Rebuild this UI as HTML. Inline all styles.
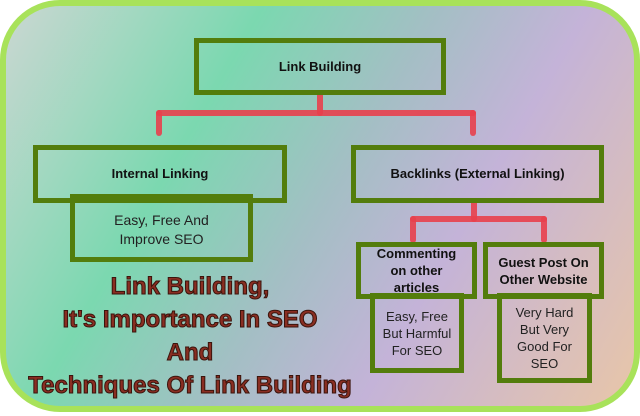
<!DOCTYPE html>
<html><head><meta charset="utf-8"><style>
html,body{margin:0;padding:0;width:640px;height:416px;background:#fff;overflow:hidden;font-family:"Liberation Sans",sans-serif}
.outer{position:absolute;left:0;top:0;width:628px;height:400px;border:6px solid #a8e25a;border-radius:60px;
background:linear-gradient(120deg,#cbd7d2 0%,#7bd8b0 30%,#a3bfc4 50%,#c4b3d8 68%,#e8c6a8 100%);}
.b{position:absolute;box-sizing:border-box;border:5px solid #537d0c;display:flex;align-items:center;justify-content:center;text-align:center;color:#222;font-size:13px;line-height:16px}
.bold{font-weight:bold;color:#111}
.r{position:absolute;background:#e8404c;opacity:.9;border-radius:3px}
.t{position:absolute;left:0;width:380px;text-align:center;font-weight:bold;font-size:24px;color:#8a2e22;-webkit-text-stroke:1px #3a140c;line-height:33px;top:270px}
</style></head><body>
<div class="outer"></div>
<div class="r" style="left:317px;top:92px;width:6px;height:24px"></div>
<div class="r" style="left:156px;top:110px;width:320px;height:6px"></div>
<div class="r" style="left:156px;top:110px;width:6px;height:26px"></div>
<div class="r" style="left:470px;top:110px;width:6px;height:26px"></div>
<div class="r" style="left:471px;top:200px;width:6px;height:22px"></div>
<div class="r" style="left:410px;top:216px;width:137px;height:6px"></div>
<div class="r" style="left:410px;top:216px;width:6px;height:27px"></div>
<div class="r" style="left:541px;top:216px;width:6px;height:27px"></div>
<div class="b bold" style="left:194px;top:38px;width:252px;height:57px">Link Building</div>
<div class="b" style="left:70px;top:194px;width:183px;height:68px;padding-top:4px;font-size:14px;line-height:19px">Easy, Free And<br>Improve SEO</div>
<div class="b bold" style="left:33px;top:145px;width:254px;height:58px">Internal Linking</div>
<div class="b bold" style="left:351px;top:145px;width:253px;height:58px">Backlinks (External Linking)</div>
<div class="b" style="left:370px;top:293px;width:94px;height:80px;font-size:13px;line-height:17px">Easy, Free<br>But Harmful<br>For SEO</div>
<div class="b" style="left:497px;top:293px;width:95px;height:90px;font-size:13px;line-height:17px">Very Hard<br>But Very<br>Good For<br>SEO</div>
<div class="b bold" style="left:356px;top:242px;width:121px;height:57px;font-size:13px;line-height:17px">Commenting<br>on other<br>articles</div>
<div class="b bold" style="left:483px;top:242px;width:121px;height:57px;font-size:13px;line-height:17px">Guest Post On<br>Other Website</div>
<div class="t">Link Building,<br>It's Importance In SEO<br>And<br>Techniques Of Link Building</div>
</body></html>
